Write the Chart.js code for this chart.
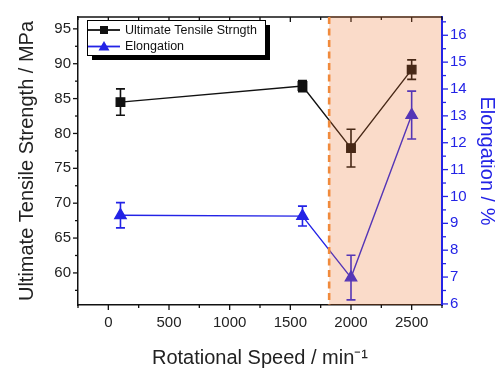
<!DOCTYPE html>
<html><head><meta charset="utf-8">
<script src="https://cdn.jsdelivr.net/npm/chart.js@4/dist/chart.umd.min.js"></script>
<style>html,body{margin:0;padding:0;background:#fff}#wrap{width:495px;height:373px}</style>
</head><body><div id="wrap"><canvas id="c" width="495" height="373"></canvas></div>
<script>
const speeds = [100, 1600, 2000, 2500];
const utsValues = [84.5, 86.8, 77.9, 89.15];
const utsErrors = [1.9, 0.8, 2.7, 1.4];
const elongValues = [9.3, 9.27, 6.98, 13.03];
const elongErrors = [0.47, 0.37, 0.83, 0.89];
const xTicks = [0, 500, 1000, 1500, 2000, 2500];
const xMinorTicks = [-250, 250, 750, 1250, 1750, 2250, 2750];
const utsTicks = [60, 65, 70, 75, 80, 85, 90, 95];
const utsMinorTicks = [57.5, 62.5, 67.5, 72.5, 77.5, 82.5, 87.5, 92.5];
const elongTicks = [6, 7, 8, 9, 10, 11, 12, 13, 14, 15, 16];
const elongMinorTicks = [6.5, 7.5, 8.5, 9.5, 10.5, 11.5, 12.5, 13.5, 14.5, 15.5, 16.5];
const transitionSpeed = 1820;
const labels = {uts: 'Ultimate Tensile Strngth', elong: 'Elongation'};

const FONT = "'Liberation Sans', Arial, sans-serif";
const BLACK = '#111111';
const BLUE = '#2323e6';

const errorBars = {
  id: 'errorBars',
  afterDatasetsDraw(chart) {
    const ctx = chart.ctx, xs = chart.scales.x;
    chart.data.datasets.forEach((ds, i) => {
      const ys = chart.scales[ds.yAxisID];
      ctx.save();
      ctx.strokeStyle = ds.borderColor; ctx.lineWidth = 1.6;
      ds.data.forEach((p, j) => {
        const e = ds.errors[j];
        const px = xs.getPixelForValue(p.x);
        const y1 = ys.getPixelForValue(p.y + e), y2 = ys.getPixelForValue(p.y - e);
        ctx.beginPath();
        ctx.moveTo(px, y1); ctx.lineTo(px, y2);
        ctx.moveTo(px - 4.5, y1); ctx.lineTo(px + 4.5, y1);
        ctx.moveTo(px - 4.5, y2); ctx.lineTo(px + 4.5, y2);
        ctx.stroke();
      });
      ctx.restore();
    });
    const a = chart.chartArea;
    ctx.save();
    ctx.strokeStyle = BLACK; ctx.lineWidth = 1.5;
    ctx.beginPath(); ctx.moveTo(a.left, a.top); ctx.lineTo(a.right, a.top); ctx.stroke();
    ctx.lineWidth = 1.3;
    xTicks.forEach(v => { const px = xs.getPixelForValue(v); ctx.beginPath(); ctx.moveTo(px, a.top); ctx.lineTo(px, a.top + 5); ctx.stroke(); });
    xMinorTicks.forEach(v => { const px = xs.getPixelForValue(v); ctx.beginPath(); ctx.moveTo(px, a.top); ctx.lineTo(px, a.top + 3); ctx.stroke(); });
    const sx = xs.getPixelForValue(transitionSpeed);
    ctx.fillStyle = 'rgba(235,110,40,0.25)';
    ctx.fillRect(sx, a.top - 1, a.right - sx - 1, a.bottom - a.top + 1);
    ctx.strokeStyle = '#f08a3c'; ctx.lineWidth = 2.6; ctx.setLineDash([7, 4.5]);
    ctx.beginPath(); ctx.moveTo(sx, a.top); ctx.lineTo(sx, a.bottom); ctx.stroke();
    ctx.restore();
  },
  afterDraw(chart) {
    const ctx = chart.ctx, a = chart.chartArea;
    const xs = chart.scales.x, yl = chart.scales.y, yr = chart.scales.y2;
    ctx.save();
    ctx.lineWidth = 1.3;
    ctx.strokeStyle = BLACK;
    xTicks.forEach(v => { const px = xs.getPixelForValue(v); ctx.beginPath(); ctx.moveTo(px, a.bottom); ctx.lineTo(px, a.bottom + 5); ctx.stroke(); });
    xMinorTicks.forEach(v => { const px = xs.getPixelForValue(v); ctx.beginPath(); ctx.moveTo(px, a.bottom); ctx.lineTo(px, a.bottom + 3); ctx.stroke(); });
    utsTicks.forEach(v => { const py = yl.getPixelForValue(v); ctx.beginPath(); ctx.moveTo(a.left, py); ctx.lineTo(a.left - 5, py); ctx.stroke(); });
    utsMinorTicks.forEach(v => { const py = yl.getPixelForValue(v); ctx.beginPath(); ctx.moveTo(a.left, py); ctx.lineTo(a.left - 3, py); ctx.stroke(); });
    ctx.strokeStyle = BLUE;
    elongTicks.forEach(v => { const py = yr.getPixelForValue(v); ctx.beginPath(); ctx.moveTo(a.right, py); ctx.lineTo(a.right + 6, py); ctx.stroke(); });
    elongMinorTicks.forEach(v => { const py = yr.getPixelForValue(v); ctx.beginPath(); ctx.moveTo(a.right, py); ctx.lineTo(a.right + 4, py); ctx.stroke(); });
    const lx = 87, ly = 20, lw = 178, lh = 35;
    ctx.fillStyle = '#000';
    ctx.fillRect(lx + 5, ly + 5, lw, lh);
    ctx.fillStyle = '#fff';
    ctx.fillRect(lx, ly, lw, lh);
    ctx.strokeStyle = '#000'; ctx.lineWidth = 1;
    ctx.strokeRect(lx + 0.5, ly + 0.5, lw, lh);
    ctx.font = '12.5px ' + FONT; ctx.textBaseline = 'middle';
    chart.data.datasets.forEach((ds, i) => {
      const cy = ly + 10 + i * 16.5;
      ctx.strokeStyle = ds.borderColor; ctx.lineWidth = 1.8;
      ctx.beginPath(); ctx.moveTo(lx + 1, cy); ctx.lineTo(lx + 33, cy); ctx.stroke();
      ctx.fillStyle = ds.borderColor;
      ctx.beginPath();
      if (i === 0) { ctx.rect(lx + 13, cy - 4, 8, 8); }
      else { ctx.moveTo(lx + 17, cy - 5.5); ctx.lineTo(lx + 22.5, cy + 4); ctx.lineTo(lx + 11.5, cy + 4); ctx.closePath(); }
      ctx.fill();
      ctx.fillStyle = '#111';
      ctx.fillText(ds.label, lx + 38, cy + 0.5);
    });
    ctx.restore();
  }
};

new Chart(document.getElementById('c'), {
  type: 'line',
  data: {
    datasets: [
      {label: labels.uts, yAxisID: 'y', data: speeds.map((s, i) => ({x: s, y: utsValues[i]})), errors: utsErrors,
       borderColor: BLACK, backgroundColor: BLACK, borderWidth: 1.4, pointStyle: 'rect', pointRadius: 6, pointHoverRadius: 6, tension: 0},
      {label: labels.elong, yAxisID: 'y2', data: speeds.map((s, i) => ({x: s, y: elongValues[i]})), errors: elongErrors,
       borderColor: BLUE, backgroundColor: BLUE, borderWidth: 1.4, pointStyle: 'triangle', pointRadius: 6.5, pointHoverRadius: 6.5, tension: 0}
    ]
  },
  options: {
    responsive: false, animation: false, devicePixelRatio: 1,
    layout: {padding: {top: 13, left: 0, right: 0, bottom: 0}},
    plugins: {legend: {display: false}, tooltip: {enabled: false}},
    scales: {
      x: {type: 'linear', position: 'bottom', min: -250, max: 2750,
        afterBuildTicks: s => { s.ticks = xTicks.map(v => ({value: v})); },
        afterFit: s => { s.height = 68; },
        grid: {display: false, drawTicks: false}, border: {display: true, color: BLACK, width: 1.5},
        ticks: {padding: 9, color: '#222', font: {family: FONT, size: 15}, maxRotation: 0, callback: v => String(v)},
        title: {display: true, text: 'Rotational Speed / min⁻¹', color: '#222', font: {family: FONT, size: 20}, padding: {top: 0, bottom: 3}}},
      y: {type: 'linear', position: 'left', min: 55.4, max: 96.7,
        afterBuildTicks: s => { s.ticks = utsTicks.map(v => ({value: v})); },
        afterFit: s => { s.width = 78; },
        grid: {display: false, drawTicks: false}, border: {display: true, color: BLACK, width: 1.5},
        ticks: {padding: 7, color: '#222', font: {family: FONT, size: 15}, callback: v => String(v)},
        title: {display: true, text: 'Ultimate Tensile Strength / MPa', color: '#222', font: {family: FONT, size: 20}, padding: {top: 15, bottom: 0}}},
      y2: {type: 'linear', position: 'right', min: 5.96, max: 16.68,
        afterBuildTicks: s => { s.ticks = elongTicks.map(v => ({value: v})); },
        afterFit: s => { s.width = 53; },
        grid: {display: false, drawTicks: false}, border: {display: true, color: BLUE, width: 2},
        ticks: {padding: 8, color: BLUE, font: {family: FONT, size: 15}, callback: v => String(v)},
        title: {display: true, text: 'Elongation / %', color: BLUE, font: {family: FONT, size: 20, lineHeight: '16px'}, padding: {top: 0, bottom: 0}}}
    }
  },
  plugins: [errorBars]
});
</script></body></html>
